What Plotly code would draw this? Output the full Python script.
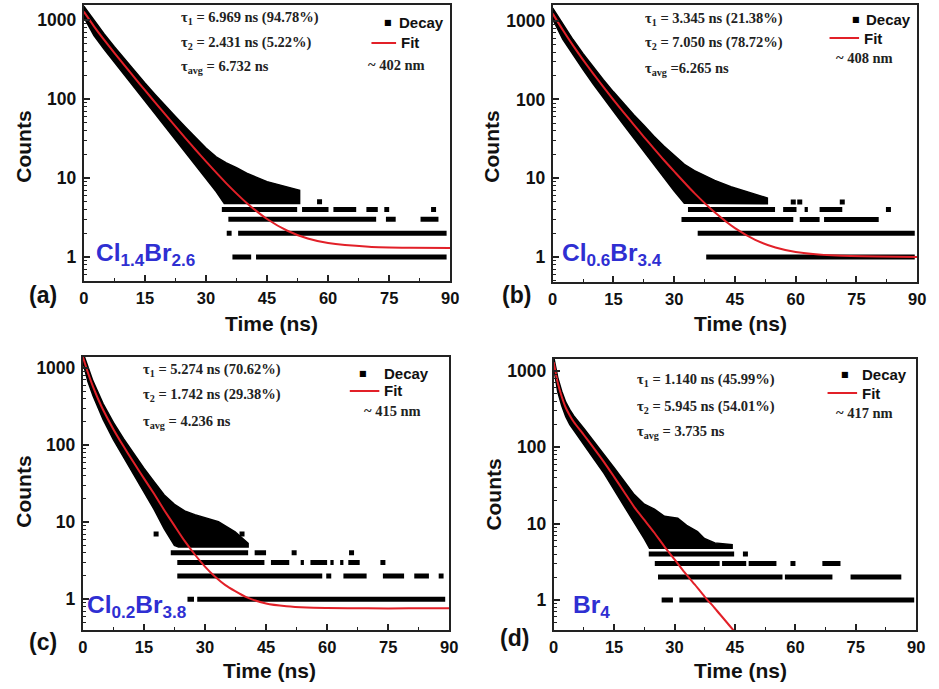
import plotly.graph_objects as go

W, H = 939, 689

# ---------------- panel (a) Cl1.4Br2.6 ----------------
a_fit_x = [0, 2.5, 5, 7.5, 10, 12.5, 15, 17.5, 20, 22.5, 25, 27.5, 30, 35, 40, 45, 50, 55, 60, 70, 80, 90]
a_fit_y = [1276, 832, 560, 384, 266, 185, 129.5, 90.7, 63.7, 44.9, 31.8, 22.6, 16.2, 8.56, 4.84, 3.03, 2.15, 1.71, 1.50, 1.35, 1.31, 1.30]
a_up_x = [0, 2.5, 5, 7.5, 10, 12.5, 15, 17.5, 20, 22.5, 25, 27.5, 30, 32.5, 35, 37.5, 40, 45, 50, 53]
a_up_y = [1500, 980, 664, 458, 320, 224, 159, 114, 82, 60, 44, 32.5, 24, 18.5, 15.5, 13.5, 11.5, 9.0, 7.8, 7.0]
a_lo_x = [0, 2.5, 5, 7.5, 10, 12.5, 15, 17.5, 20, 22.5, 25, 27.5, 30, 32.5, 34.5, 53]
a_lo_y = [1086, 637, 425, 290, 199, 138, 94.5, 65, 44.5, 30.2, 20.7, 14.1, 9.8, 6.75, 4.75, 4.75]
a_rows = {
    4: [[33.9, 52.4], [53.6, 60.1], [61.3, 66.9], [69.4, 72.2], [73.8, 75.0]],
    3: [[35.5, 71.8], [74.2, 76.6], [82.7, 87.1]],
    2: [[35.1, 36.3], [37.9, 89.1]],
    1: [[36.5, 41.1], [42.3, 89.1]],
}
a_dot_x = [57.9, 85.9]
a_dot_y = [5, 4]

# ---------------- panel (b) Cl0.6Br3.4 ----------------
b_fit_x = [0, 2.5, 5, 7.5, 10, 12.5, 15, 17.5, 20, 22.5, 25, 27.5, 30, 35, 40, 45, 50, 55, 60, 70, 80, 90]
b_fit_y = [1231, 762, 486, 319, 213, 144.5, 99.2, 68.8, 47.9, 33.6, 23.8, 16.9, 12.2, 6.46, 3.69, 2.32, 1.65, 1.32, 1.16, 1.04, 1.01, 1.00]
b_up_x = [0, 2.5, 5, 7.5, 10, 12.5, 15, 17.5, 20, 22.5, 25, 27.5, 30, 32.5, 35, 40, 44, 48, 53]
b_up_y = [1450, 897, 577, 382, 259, 178, 125, 89, 64, 47, 34, 25.5, 19.3, 15, 12.5, 9.4, 7.8, 6.7, 5.6]
b_lo_x = [0, 2.5, 5, 7.5, 10, 12.5, 15, 17.5, 20, 22.5, 25, 27.5, 30, 32.5, 33.5, 53]
b_lo_y = [1045, 582, 369, 239, 157.5, 105, 71, 47.7, 32.3, 21.6, 14.9, 10.1, 6.9, 4.8, 4.75, 4.75]
b_rows = {
    4: [[33.4, 54.9], [56.9, 60.2], [62.2, 63.0], [65.9, 71.5]],
    3: [[31.8, 59.4], [61.0, 65.9], [67.0, 80.5]],
    2: [[35.8, 89.4]],
    1: [[37.9, 89.4]],
}
b_dot_x = [59.4, 61.0, 71.5, 82.9]
b_dot_y = [5, 5, 5, 4]

# ---------------- panel (c) Cl0.2Br3.8 ----------------
c_fit_x = [0, 1.25, 2.5, 3.75, 5, 7.5, 10, 12.5, 15, 17.5, 20, 22.5, 25, 27.5, 30, 32.5, 35, 40, 45, 50, 55, 60, 70, 80, 90]
c_fit_y = [1401, 871, 572, 396, 285, 161, 96.4, 59.3, 37.0, 23.3, 14.3, 9.0, 5.7, 3.8, 2.65, 1.95, 1.52, 1.07, 0.88, 0.81, 0.78, 0.77, 0.76, 0.76, 0.76]
c_up_x = [0, 1.25, 2.5, 5, 7.5, 10, 12.5, 15, 17.5, 20, 22.5, 25, 27.5, 30, 33.3, 37.4, 40.6]
c_up_y = [1600, 1025, 675, 343, 197, 121, 77, 50, 33.5, 22.5, 17, 14, 12.5, 11.5, 10.1, 7.5, 5.3]
c_lo_x = [0, 1.25, 2.5, 5, 7.5, 10, 12.5, 15, 17.5, 20, 22.5, 23.5, 40.6]
c_lo_y = [1195, 666, 437, 213, 118, 69, 41, 24.7, 14.6, 8.2, 5.0, 4.75, 4.75]
c_rows = {
    4: [[21.6, 40.6], [42.2, 45.0]],
    3: [[23.2, 44.6], [46.2, 50.7], [53.5, 54.3], [55.9, 60.0], [60.8, 61.6], [63.2, 64.0], [65.2, 68.0]],
    2: [[23.2, 58.8], [64.0, 69.7], [73.7, 78.9], [81.4, 85.0], [87.4, 88.6]],
    1: [[25.7, 27.3], [28.1, 89.0]],
}
c_dot_x = [18.0, 39.1, 51.9, 66.0, 73.7, 60.4]
c_dot_y = [7, 7, 4, 4, 3, 2]

# ---------------- panel (d) Br4 ----------------
d_fit_x = [0, 1, 2, 3, 4, 5, 7.5, 10, 12.5, 15, 17.5, 20, 22.5, 25, 27.5, 30, 32.5, 35, 37.5, 40, 45]
d_fit_y = [1300, 700, 460, 330, 262, 215, 145, 97, 64, 41, 26, 16.5, 11.2, 7.6, 5.0, 3.4, 2.3, 1.6, 1.1, 0.78, 0.38]
d_up_x = [0, 1, 2, 3, 4, 5, 7.5, 10, 12.5, 15, 17.5, 20, 22.5, 25, 27.5, 30.8, 33, 35.7, 37.4, 40, 44.3]
d_up_y = [1530, 825, 543, 390, 311, 258, 176, 120, 81, 54, 36, 24, 18, 15.5, 12.5, 11.8, 9.5, 7.9, 6.4, 5.6, 5.3]
d_lo_x = [0, 1, 2, 3, 4, 5, 7.5, 10, 12.5, 15, 17.5, 20, 22.5, 23.8, 44.3]
d_lo_y = [1105, 535, 351, 251, 199, 162, 107, 70, 45.5, 28, 17, 10.3, 6.3, 4.75, 4.75]
d_rows = {
    4: [[23.6, 44.8]],
    3: [[25.1, 41.2], [41.8, 47.8], [48.4, 55.3], [66.7, 71.2]],
    2: [[25.9, 56.8], [57.4, 69.2], [73.7, 86.3]],
    1: [[26.8, 29.6], [31.2, 89.5]],
}
d_dot_x = [47.6, 59.4]
d_dot_y = [4, 3]

# text content
tau_lines = [
    ["τ<sub>1</sub> = 6.969 ns (94.78%)", "τ<sub>2</sub> = 2.431 ns (5.22%)", "τ<sub>avg</sub> = 6.732 ns"],
    ["τ<sub>1</sub> = 3.345 ns (21.38%)", "τ<sub>2</sub> = 7.050 ns (78.72%)", "τ<sub>avg</sub> =6.265 ns"],
    ["τ<sub>1</sub> = 5.274 ns (70.62%)", "τ<sub>2</sub> = 1.742 ns (29.38%)", "τ<sub>avg</sub> = 4.236 ns"],
    ["τ<sub>1</sub> = 1.140 ns (45.99%)", "τ<sub>2</sub> = 5.945 ns (54.01%)", "τ<sub>avg</sub> = 3.735 ns"],
]
wavelengths = ["~ 402 nm", "~ 408 nm", "~ 415 nm", "~ 417 nm"]
compositions = ["Cl<sub>1.4</sub>Br<sub>2.6</sub>", "Cl<sub>0.6</sub>Br<sub>3.4</sub>",
                "Cl<sub>0.2</sub>Br<sub>3.8</sub>", "Br<sub>4</sub>"]
panel_tags = ["(a)", "(b)", "(c)", "(d)"]
x_ticks = [0, 15, 30, 45, 60, 75, 90]

panels = [
    (a_fit_x, a_fit_y, a_up_x, a_up_y, a_lo_x, a_lo_y, a_rows, a_dot_x, a_dot_y),
    (b_fit_x, b_fit_y, b_up_x, b_up_y, b_lo_x, b_lo_y, b_rows, b_dot_x, b_dot_y),
    (c_fit_x, c_fit_y, c_up_x, c_up_y, c_lo_x, c_lo_y, c_rows, c_dot_x, c_dot_y),
    (d_fit_x, d_fit_y, d_up_x, d_up_y, d_lo_x, d_lo_y, d_rows, d_dot_x, d_dot_y),
]

# layout geometry (pixels)
geo = [
    dict(x0=80, x1=452, yt=5, yb=281, yr=[-0.304, 3.19]),
    dict(x0=556, x1=926, yt=5, yb=282, yr=[-0.318, 3.20]),
    dict(x0=79, x1=451, yt=357, yb=630, yr=[-0.40, 3.143]),
    dict(x0=557, x1=925, yt=359, yb=630, yr=[-0.393, 3.157]),
]
# annotation anchor positions (pixels)
txt_pos = [
    dict(tx=177, ty=[18, 43, 67], sq=(389, 22), dec=(398, 22), fl=(372, 397, 43), fit=(400, 43), nm=(366, 65),
         comp=(90, 254), tag=(22, 295), ct=(18, 147), tt=(271, 323)),
    dict(tx=648, ty=[19, 43, 69], sq=(864, 20), dec=(872, 20), fl=(837, 867, 38), fit=(870, 38), nm=(842, 58),
         comp=(563, 254), tag=(502, 295), ct=(493, 147), tt=(747, 323)),
    dict(tx=138, ty=[370, 395, 422], sq=(363, 373), dec=(383, 373), fl=(350, 380, 391), fit=(383, 391), nm=(362, 411),
         comp=(81, 606), tag=(22, 642), ct=(18, 492), tt=(268, 670)),
    dict(tx=640, ty=[380, 407, 432], sq=(853, 374), dec=(868, 374), fl=(835, 865, 393), fit=(868, 393), nm=(842, 413),
         comp=(575, 606), tag=(500, 638), ct=(495, 495), tt=(747, 670)),
]


def PX(x):
    return x / W


def PY(y):
    return 1 - y / H


fig = go.Figure()
annotations = []
shapes = []
SANS = "Liberation Sans, Arial, sans-serif"
SERIF = "Liberation Serif, Times New Roman, serif"
BLUE = "#2f2fd2"
RED = "rgb(226,32,40)"

for i, (fx, fy, ux, uy, lx, ly, rows, dx, dy) in enumerate(panels):
    n = i + 1
    xa = "x" if n == 1 else f"x{n}"
    ya = "y" if n == 1 else f"y{n}"
    g = geo[i]

    # decay band (dense region of the scatter)
    bx = list(ux) + list(reversed(lx))
    by = list(uy) + list(reversed(ly))
    fig.add_trace(go.Scatter(x=bx, y=by, xaxis=xa, yaxis=ya, mode="lines", fill="toself",
                             fillcolor="black", line=dict(color="black", width=1.5),
                             hoverinfo="skip", showlegend=False))
    # discrete-count rows in the tail
    for level, segs in rows.items():
        sx, sy = [], []
        for s0, s1 in segs:
            sx += [s0, s1, None]
            sy += [level, level, None]
        fig.add_trace(go.Scatter(x=sx, y=sy, xaxis=xa, yaxis=ya, mode="lines",
                                 line=dict(color="black", width=5), hoverinfo="skip", showlegend=False))
    fig.add_trace(go.Scatter(x=dx, y=dy, xaxis=xa, yaxis=ya, mode="markers",
                             marker=dict(symbol="square", size=5, color="black"),
                             hoverinfo="skip", showlegend=False))
    # fit
    fig.add_trace(go.Scatter(x=fx, y=fy, xaxis=xa, yaxis=ya, mode="lines",
                             line=dict(color=RED, width=2, shape="spline", smoothing=0.6),
                             hoverinfo="skip", showlegend=False))

    axis_common = dict(showline=True, linewidth=2, linecolor="#222", mirror=True, showgrid=False,
                       zeroline=False, ticks="inside", ticklen=6, tickwidth=1.5, tickcolor="#222")
    fig.update_layout(**{
        ("xaxis" if n == 1 else f"xaxis{n}"): dict(
            domain=[PX(g["x0"]), PX(g["x1"])], range=[0, 90], anchor=ya,
            tickmode="array", tickvals=x_ticks,
            minor=dict(tickmode="linear", tick0=0, dtick=7.5, ticks="inside", ticklen=3.5, tickwidth=1.2,
                       tickcolor="#222"),
            tickfont=dict(family=SANS, size=16.5, color="#111", weight="bold"),
            ticklabelstandoff=1, **axis_common),
        ("yaxis" if n == 1 else f"yaxis{n}"): dict(
            domain=[PY(g["yb"]), PY(g["yt"])], type="log", range=g["yr"], anchor=xa,
            tickmode="linear", tick0=0, dtick=1, exponentformat="none",
            minor=dict(dtick="D1", ticks="inside", ticklen=3, tickwidth=1, tickcolor="#222"),
            tickfont=dict(family=SANS, size=17.5, color="#111", weight="bold"),
            ticklabelstandoff=2, **axis_common),
    })

    p = txt_pos[i]
    for k, t in enumerate(tau_lines[i]):
        annotations.append(dict(x=PX(p["tx"]), y=PY(p["ty"][k]), xref="paper", yref="paper", text=t,
                                showarrow=False, xanchor="left", yanchor="middle",
                                font=dict(family=SERIF, size=14.5, color="#222", weight="bold")))
    annotations.append(dict(x=PX(p["sq"][0]), y=PY(p["sq"][1]), xref="paper", yref="paper", text="■",
                            showarrow=False, xanchor="center", yanchor="middle",
                            font=dict(family="DejaVu Sans", size=8, color="black")))
    annotations.append(dict(x=PX(p["dec"][0]), y=PY(p["dec"][1]), xref="paper", yref="paper", text="Decay",
                            showarrow=False, xanchor="left", yanchor="middle",
                            font=dict(family=SANS, size=15, color="#111", weight="bold")))
    annotations.append(dict(x=PX(p["fit"][0]), y=PY(p["fit"][1]), xref="paper", yref="paper", text="Fit",
                            showarrow=False, xanchor="left", yanchor="middle",
                            font=dict(family=SANS, size=15, color="#111", weight="bold")))
    shapes.append(dict(type="line", xref="paper", yref="paper", x0=PX(p["fl"][0]), x1=PX(p["fl"][1]),
                       y0=PY(p["fl"][2]), y1=PY(p["fl"][2]), line=dict(color=RED, width=2)))
    annotations.append(dict(x=PX(p["nm"][0]), y=PY(p["nm"][1]), xref="paper", yref="paper", text=wavelengths[i],
                            showarrow=False, xanchor="left", yanchor="middle",
                            font=dict(family=SERIF, size=14.5, color="#222", weight="bold")))
    annotations.append(dict(x=PX(p["comp"][0]), y=PY(p["comp"][1]), xref="paper", yref="paper",
                            text=compositions[i], showarrow=False, xanchor="left", yanchor="middle",
                            font=dict(family=SANS, size=24.5, color=BLUE, weight="bold")))
    annotations.append(dict(x=PX(p["tag"][0]), y=PY(p["tag"][1]), xref="paper", yref="paper",
                            text=panel_tags[i], showarrow=False, xanchor="left", yanchor="middle",
                            font=dict(family=SANS, size=23, color="#111", weight="bold")))
    annotations.append(dict(x=PX(p["ct"][0]), y=PY(p["ct"][1]), xref="paper", yref="paper",
                            text="Counts", textangle=-90, showarrow=False, xanchor="center", yanchor="middle",
                            font=dict(family=SANS, size=21, color="#111", weight="bold")))
    annotations.append(dict(x=PX(p["tt"][0]), y=PY(p["tt"][1]), xref="paper", yref="paper",
                            text="Time (ns)", showarrow=False, xanchor="center", yanchor="middle",
                            font=dict(family=SANS, size=21, color="#111", weight="bold")))

fig.update_layout(width=W, height=H, margin=dict(l=0, r=0, t=0, b=0),
                  paper_bgcolor="white", plot_bgcolor="white",
                  annotations=annotations, shapes=shapes, showlegend=False)

fig.write_html("out.html")
